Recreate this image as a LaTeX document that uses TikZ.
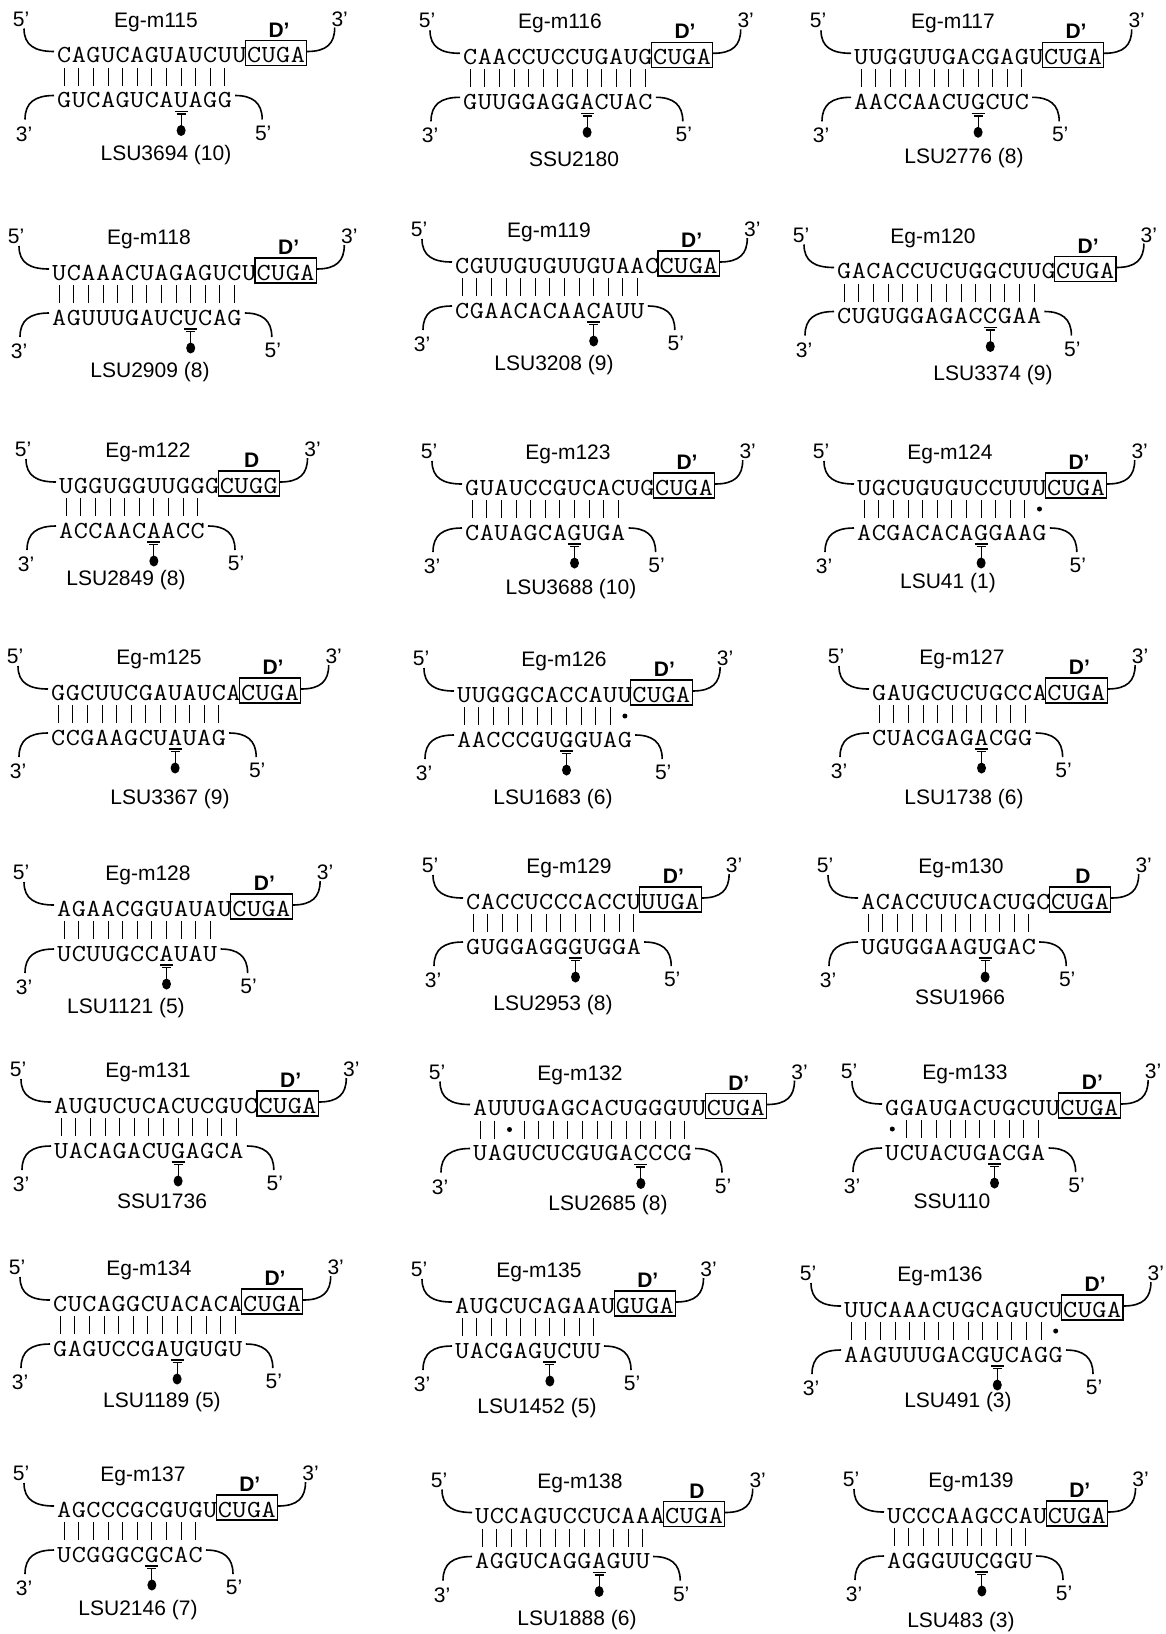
\documentclass[tikz,border=0pt]{standalone}
\usepackage{fontspec}
\setmainfont{Liberation Sans}
\newcount\seqi
\def\pitch{14.6}
\tikzset{
  seqch/.style={inner sep=0pt, anchor=base, font=\ttfamily\fontsize{24.5}{24}\selectfont},
  lab/.style={inner sep=0pt, anchor=base, font=\fontsize{21}{21}\selectfont},
  dlab/.style={inner sep=0pt, anchor=base, font=\bfseries\fontsize{21}{21}\selectfont},
  strand/.style={line width=1.6pt},
  pairbar/.style={line width=1.1pt},
  dbox/.style={line width=1.2pt},
  tick/.style={line width=1.1pt},
}
\def\PutSeqLoop#1{%
  \ifx\relax#1\else
    \node[seqch] at ({\Px+(\the\seqi+0.5)*\pitch},\Pyt) {\scalebox{1.12}[1]{#1}};%
    \global\advance\seqi by 1\relax
    \expandafter\PutSeqLoop
  \fi}
\def\PutBotLoop#1{%
  \ifx\relax#1\else
    \global\advance\seqi by 1\relax
    \pgfmathsetmacro\Pcx{\Px+(\the\seqi-0.5)*\pitch}%
    \node[seqch] at (\Pcx,\Pyb) {\scalebox{1.12}[1]{#1}};%
    \ifnum\seqi=\Pmm\relax
      \fill (\Pcx,{\Pym+21}) circle[radius=2.5pt];%
    \else
      \draw[pairbar] (\Pcx,{\Pym+12}) -- (\Pcx,{\Pym+30});%
    \fi
    \ifnum\seqi=\Pu\relax
      \draw[tick] ({\Pcx-6.5},{\Pym+56}) -- ({\Pcx+6.5},{\Pym+56});%
      \draw[line width=1.8pt] ({\Pcx-4.5},{\Pym+58.5}) -- ({\Pcx+4.5},{\Pym+58.5});%
      \draw[tick] (\Pcx,{\Pym+58.5}) -- (\Pcx,{\Pym+72});%
      \fill (\Pcx,{\Pym+75}) ellipse[x radius=4.5pt, y radius=5.5pt];%
    \fi
    \expandafter\PutBotLoop
  \fi}
\newcommand\PanelSet[4]{\def\Ptx{#1}\def\Plx{#2}\def\Ply{#3}\def\Pmm{#4}}
\newcommand\Panel[9]{%
  \def\Px{#1}\def\Pym{#2}\def\Pu{#8}%
  \pgfmathsetmacro\Pyt{#2+7.3}%
  \pgfmathsetmacro\Pyb{#2+52.3}%
  \global\seqi=0\relax
  \PutSeqLoop#4\relax
  \edef\Pn{\the\seqi}%
  \PutSeqLoop#5\relax
  \pgfmathsetmacro\Pbl{#1+\Pn*\pitch-1.5}%
  \pgfmathsetmacro\Pbr{#1+(\Pn+4)*\pitch+1.5}%
  \draw[dbox] (\Pbl,{#2-15}) rectangle (\Pbr,{#2+10});
  \global\seqi=0\relax
  \PutBotLoop#7\relax
  \pgfmathsetmacro\Pbe{#1+\the\seqi*\pitch}%
  \draw[strand] ({#1-33},{#2-27}) .. controls ({#1-33},{#2-10}) and ({#1-22},{#2-4}) .. ({#1-3},{#2-4});
  \draw[strand] ({\Pbr+0.5},{#2-4}) .. controls ({\Pbr+20},{#2-4}) and ({\Pbr+28},{#2-12}) .. ({\Pbr+28},{#2-28});
  \draw[strand] ({#1-3},{#2+40}) .. controls ({#1-22},{#2+40}) and ({#1-32},{#2+47}) .. ({#1-32},{#2+64});
  \draw[strand] ({\Pbe+3},{#2+40}) .. controls ({\Pbe+20},{#2+40}) and ({\Pbe+30},{#2+47}) .. ({\Pbe+30},{#2+64});
  \node[lab] at ({#1-36},{#2-37+7.5}) {5’};
  \node[lab] at ({\Pbr+33},{#2-37+7.5}) {3’};
  \node[lab] at ({#1-33},{#2+78+7.5}) {3’};
  \node[lab] at ({\Pbe+31},{#2+77+7.5}) {5’};
  \node[dlab] at ({(\Pbl+\Pbr)/2+3},{#2-26+7.5}) {#6};
  \node[lab] at (\Ptx,{#2-36+7.5}) {#3};
  \node[lab] at (\Plx,{\Ply+7.5}) {#9};
}
\begin{document}
\begin{tikzpicture}[x=1pt,y=-1pt]
\fill[white] (0,0) rectangle (1166,1634);
\useasboundingbox (0,0) rectangle (1166,1634);
% row 1
\PanelSet{156}{166}{153}{0}
\Panel{57}{55.5}{Eg-m115}{CAGUCAGUAUCUU}{CUGA}{D’}{GUCAGUCAUAGG}{9}{LSU3694 (10)}
\PanelSet{560}{574}{159}{0}
\Panel{463}{57.3}{Eg-m116}{CAACCUCCUGAUG}{CUGA}{D’}{GUUGGAGGACUAC}{9}{SSU2180}
\PanelSet{953}{964}{156}{0}
\Panel{854}{57.3}{Eg-m117}{UUGGUUGACGAGU}{CUGA}{D’}{AACCAACUGCUC}{9}{LSU2776 (8)}
% row 2
\PanelSet{149}{150}{370}{0}
\Panel{52}{273}{Eg-m118}{UCAAACUAGAGUCU}{CUGA}{D’}{AGUUUGAUCUCAG}{10}{LSU2909 (8)}
\PanelSet{549}{554}{363}{0}
\Panel{455}{266}{Eg-m119}{CGUUGUGUUGUAAC}{CUGA}{D’}{CGAACACAACAUU}{10}{LSU3208 (9)}
\PanelSet{933}{993}{373}{0}
\Panel{837}{271.5}{Eg-m120}{GACACCUCUGGCUUG}{CUGA}{D’}{CUGUGGAGACCGAA}{11}{LSU3374 (9)}
% row 3
\PanelSet{148}{126}{578}{0}
\Panel{59}{486}{Eg-m122}{UGGUGGUUGGG}{CUGG}{D}{ACCAACAACC}{7}{LSU2849 (8)}
\PanelSet{568}{571}{587}{0}
\Panel{465}{488}{Eg-m123}{GUAUCCGUCACUG}{CUGA}{D’}{CAUAGCAGUGA}{8}{LSU3688 (10)}
\PanelSet{950}{948}{581}{13}
\Panel{857}{488}{Eg-m124}{UGCUGUGUCCUUU}{CUGA}{D’}{ACGACACAGGAAG}{9}{LSU41 (1)}
% row 4
\PanelSet{159}{170}{797}{0}
\Panel{51}{693}{Eg-m125}{GGCUUCGAUAUCA}{CUGA}{D’}{CCGAAGCUAUAG}{9}{LSU3367 (9)}
\PanelSet{564}{553}{797}{12}
\Panel{457}{695}{Eg-m126}{UUGGGCACCAUU}{CUGA}{D’}{AACCCGUGGUAG}{8}{LSU1683 (6)}
\PanelSet{962}{964}{797}{0}
\Panel{872}{693}{Eg-m127}{GAUGCUCUGCCA}{CUGA}{D’}{CUACGAGACGG}{8}{LSU1738 (6)}
% row 5
\PanelSet{148}{126}{1006}{0}
\Panel{57}{909}{Eg-m128}{AGAACGGUAUAU}{CUGA}{D’}{UCUUGCCAUAU}{8}{LSU1121 (5)}
\PanelSet{569}{553}{1003}{0}
\Panel{466}{902}{Eg-m129}{CACCUCCCACCU}{UUGA}{D’}{GUGGAGGGUGGA}{8}{LSU2953 (8)}
\PanelSet{961}{960}{997}{0}
\Panel{861}{902}{Eg-m130}{ACACCUUCACUGC}{CUGA}{D}{UGUGGAAGUGAC}{9}{SSU1966}
% row 6
\PanelSet{148}{162}{1201}{0}
\Panel{54}{1106}{Eg-m131}{AUGUCUCACUCGUC}{CUGA}{D’}{UACAGACUGAGCA}{9}{SSU1736}
\PanelSet{580}{608}{1203}{3}
\Panel{473}{1108.5}{Eg-m132}{AUUUGAGCACUGGGUU}{CUGA}{D’}{UAGUCUCGUGACCCG}{12}{LSU2685 (8)}
\PanelSet{965}{952}{1201}{1}
\Panel{885}{1108}{Eg-m133}{GGAUGACUGCUU}{CUGA}{D’}{UCUACUGACGA}{8}{SSU110}
% row 7
\PanelSet{149}{162}{1400}{0}
\Panel{53}{1304}{Eg-m134}{CUCAGGCUACACA}{CUGA}{D’}{GAGUCCGAUGUGU}{9}{LSU1189 (5)}
\PanelSet{539}{537}{1406}{0}
\Panel{455}{1306}{Eg-m135}{AUGCUCAGAAU}{GUGA}{D’}{UACGAGUCUU}{7}{LSU1452 (5)}
\PanelSet{940}{958}{1400}{15}
\Panel{844}{1310}{Eg-m136}{UUCAAACUGCAGUCU}{CUGA}{D’}{AAGUUUGACGUCAGG}{11}{LSU491 (3)}
% row 8
\PanelSet{143}{138}{1608}{0}
\Panel{57}{1510}{Eg-m137}{AGCCCGCGUGU}{CUGA}{D’}{UCGGGCGCAC}{7}{LSU2146 (7)}
\PanelSet{580}{577}{1618}{0}
\Panel{475}{1516.5}{Eg-m138}{UCCAGUCCUCAAA}{CUGA}{D}{AGGUCAGGAGUU}{9}{LSU1888 (6)}
\PanelSet{971}{961}{1620}{0}
\Panel{887}{1516}{Eg-m139}{UCCCAAGCCAU}{CUGA}{D’}{AGGGUUCGGU}{7}{LSU483 (3)}
\end{tikzpicture}
\end{document}
